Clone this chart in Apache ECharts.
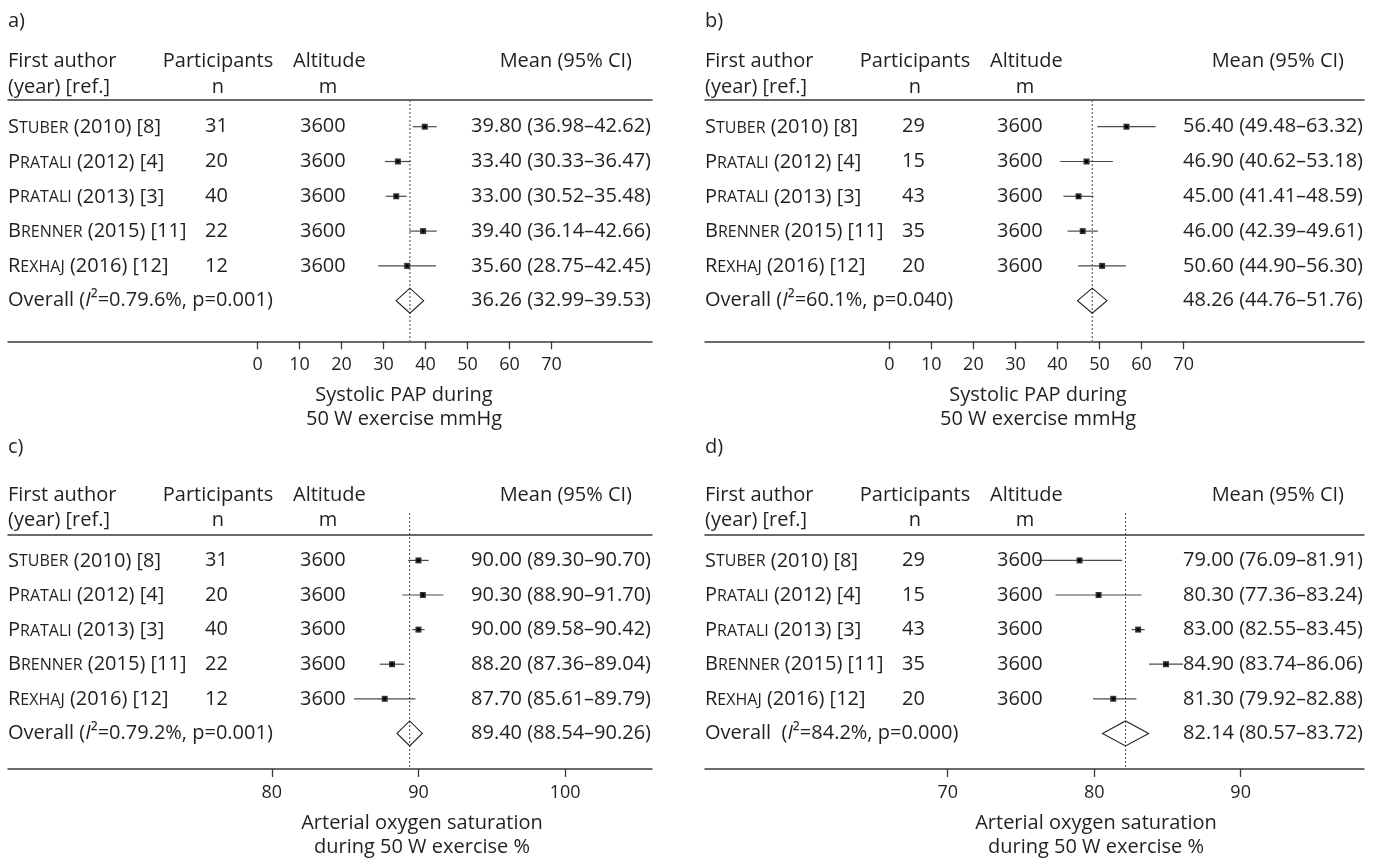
<!DOCTYPE html>
<html><head><meta charset="utf-8">
<script src="https://cdn.jsdelivr.net/npm/echarts@6/dist/echarts.min.js"></script>
<style>html,body{margin:0;padding:0;background:#fff}#c{width:1379px;height:859px}</style>
</head><body><div id="c"></div>
<script>
// ---------- data ----------
const surnames = ['Stuber', 'Pratali', 'Pratali', 'Brenner', 'Rexhaj'];
const yearRefs = ['(2010) [8]', '(2012) [4]', '(2013) [3]', '(2015) [11]', '(2016) [12]'];
const altitudes = [3600, 3600, 3600, 3600, 3600];

const nA = [31, 20, 40, 22, 12];
const meanA = [39.80, 33.40, 33.00, 39.40, 35.60];
const lowA = [36.98, 30.33, 30.52, 36.14, 28.75];
const highA = [42.62, 36.47, 35.48, 42.66, 42.45];
const overallA = [36.26, 32.99, 39.53];
const hetA = ['0.79.6%', '0.001'];
const ticksA = [0, 10, 20, 30, 40, 50, 60, 70];
const titleA = ['Systolic PAP during', '50 W exercise mmHg'];

const nB = [29, 15, 43, 35, 20];
const meanB = [56.40, 46.90, 45.00, 46.00, 50.60];
const lowB = [49.48, 40.62, 41.41, 42.39, 44.90];
const highB = [63.32, 53.18, 48.59, 49.61, 56.30];
const overallB = [48.26, 44.76, 51.76];
const hetB = ['60.1%', '0.040'];
const ticksB = [0, 10, 20, 30, 40, 50, 60, 70];
const titleB = ['Systolic PAP during', '50 W exercise mmHg'];

const nC = [31, 20, 40, 22, 12];
const meanC = [90.00, 90.30, 90.00, 88.20, 87.70];
const lowC = [89.30, 88.90, 89.58, 87.36, 85.61];
const highC = [90.70, 91.70, 90.42, 89.04, 89.79];
const overallC = [89.40, 88.54, 90.26];
const hetC = ['0.79.2%', '0.001'];
const ticksC = [80, 90, 100];
const titleC = ['Arterial oxygen saturation', 'during 50 W exercise %'];

const nD = [29, 15, 43, 35, 20];
const meanD = [79.00, 80.30, 83.00, 84.90, 81.30];
const lowD = [76.09, 77.36, 82.55, 83.74, 79.92];
const highD = [81.91, 83.24, 83.45, 86.06, 82.88];
const overallD = [82.14, 80.57, 83.72];
const hetD = ['84.2%', '0.000'];
const ticksD = [70, 80, 90];
const titleD = ['Arterial oxygen saturation', 'during 50 W exercise %'];

// ---------- layout ----------
const FONT = '"Open Sans", "DejaVu Sans", sans-serif';
const TXT = '#231f20';
const panels = [
  {label: 'a)', n: nA, mean: meanA, low: lowA, high: highA, overall: overallA, het: hetA, ticks: ticksA, title: titleA, hetGap: ' ',
   left: 8, right: 652, top: 100, axisY: 341.3, row0: 126.7, step: 34.8, labelY: 21.7, h1: 61.7, h2: 87.3, t1: 395.7, t2: 419, tx: 404,
   xmin: -59.43, xmax: 93.9, dashTop: null},
  {label: 'b)', n: nB, mean: meanB, low: lowB, high: highB, overall: overallB, het: hetB, ticks: ticksB, title: titleB, hetGap: ' ',
   left: 705, right: 1364, top: 100, axisY: 341.3, row0: 126.7, step: 34.8, labelY: 21.7, h1: 61.7, h2: 87.3, t1: 395.7, t2: 419, tx: 1038,
   xmin: -43.83, xmax: 112.89, dashTop: null},
  {label: 'c)', n: nC, mean: meanC, low: lowC, high: highC, overall: overallC, het: hetC, ticks: ticksC, title: titleC, hetGap: ' ',
   left: 8, right: 652, top: 534.3, axisY: 769, row0: 560.4, step: 34.6, labelY: 447, h1: 495, h2: 520, t1: 823.3, t2: 847.3, tx: 422,
   xmin: 62.02, xmax: 105.92, dashTop: -1.37},
  {label: 'd)', n: nD, mean: meanD, low: lowD, high: highD, overall: overallD, het: hetD, ticks: ticksD, title: titleD, hetGap: '  ',
   left: 705, right: 1364, top: 534.3, axisY: 769, row0: 560.4, step: 34.6, labelY: 447, h1: 495, h2: 520, t1: 823.3, t2: 847.3, tx: 1096,
   xmin: 53.43, xmax: 98.42, dashTop: -1.37}
];

const grid = [], xAxis = [], yAxis = [], series = [], graphics = [];

function txt(x, y, text, align, size) {
  return {type: 'text', x: x, y: y, silent: true,
    style: {text: text, fill: TXT, font: (size || 20) + 'px ' + FONT, textAlign: align || 'left', textVerticalAlign: 'middle'}};
}

panels.forEach((p, k) => {
  const ymin = (p.top - p.row0) / p.step;
  const ymax = (p.axisY - p.row0) / p.step;
  grid.push({left: p.left, top: p.top, width: p.right - p.left, height: p.axisY - p.top, containLabel: false});
  xAxis.push({
    gridIndex: k, type: 'value', min: p.xmin, max: p.xmax, position: 'bottom',
    splitLine: {show: false},
    axisLine: {show: true, onZero: false, lineStyle: {color: '#3a3a3a', width: 1.5}},
    axisTick: {show: true, customValues: p.ticks, length: 8, lineStyle: {color: '#3a3a3a', width: 1.3}},
    axisLabel: {show: true, customValues: p.ticks, margin: 15, color: TXT, fontSize: 18, fontFamily: FONT}
  });
  xAxis.push({
    gridIndex: k, type: 'value', min: p.xmin, max: p.xmax, position: 'top',
    splitLine: {show: false}, axisTick: {show: false}, axisLabel: {show: false},
    axisLine: {show: true, onZero: false, lineStyle: {color: '#3a3a3a', width: 1.5}}
  });
  yAxis.push({gridIndex: k, type: 'value', inverse: true, min: ymin, max: ymax, show: false});

  const studies = p.mean.map((m, i) => [i, p.low[i], m, p.high[i]]);
  series.push({
    type: 'custom', xAxisIndex: 2 * k, yAxisIndex: k, silent: true,
    encode: {y: 0, x: [1, 2, 3]},
    data: studies,
    renderItem: function (params, api) {
      const i = api.value(0);
      const lo = api.coord([api.value(1), i]);
      const mid = api.coord([api.value(2), i]);
      const hi = api.coord([api.value(3), i]);
      return {type: 'group', children: [
        {type: 'line', shape: {x1: lo[0], y1: lo[1], x2: hi[0], y2: hi[1]}, style: {stroke: '#4a4a4a', lineWidth: 1.2}},
        {type: 'rect', shape: {x: mid[0] - 3, y: mid[1] - 3, width: 6, height: 6}, style: {fill: '#333'}},
        {type: 'circle', shape: {cx: mid[0], cy: mid[1], r: 1.7}, style: {fill: '#000'}}
      ]};
    }
  });
  // overall diamond + dashed reference line at overall mean
  series.push({
    type: 'custom', xAxisIndex: 2 * k, yAxisIndex: k, silent: true,
    encode: {y: 0, x: [1, 2, 3]},
    data: [[5, p.overall[1], p.overall[0], p.overall[2]]],
    renderItem: function (params, api) {
      const i = api.value(0);
      const lo = api.coord([api.value(1), i]);
      const mid = api.coord([api.value(2), i]);
      const hi = api.coord([api.value(3), i]);
      const dTop = api.coord([api.value(2), p.dashTop === null ? ymin : p.dashTop]);
      const dBot = api.coord([api.value(2), ymax]);
      return {type: 'group', children: [
        {type: 'line', shape: {x1: dTop[0], y1: dTop[1], x2: dBot[0], y2: dBot[1]},
          style: {stroke: '#444', lineWidth: 1, lineDash: [2, 2]}},
        {type: 'polygon', shape: {points: [[lo[0], lo[1]], [mid[0], mid[1] - 12.5], [hi[0], hi[1]], [mid[0], mid[1] + 12.5]]},
          style: {fill: 'rgba(255,255,255,0)', stroke: '#222', lineWidth: 1.1}}
      ]};
    }
  });
  // text columns
  const rows = [0, 1, 2, 3, 4, 5].map(i => [p.xmin, i]);
  series.push({
    type: 'custom', xAxisIndex: 2 * k, yAxisIndex: k, silent: true,
    encode: {x: 0, y: 1},
    data: rows,
    renderItem: function (params, api) {
      const i = api.value(1);
      const y = api.coord([api.value(0), i])[1];
      const font = '20px ' + FONT;
      const ch = [];
      const base = {fill: TXT, font: font, textVerticalAlign: 'middle'};
      if (i < 5) {
        const s = surnames[i];
        ch.push({type: 'text', x: p.left, y: y - 1.5, style: Object.assign({}, base, {
          text: '{n|' + s[0] + '}{sc|' + s.slice(1).toUpperCase() + '}{n| ' + yearRefs[i] + '}',
          textAlign: 'left',
          rich: {n: {fontSize: 20, fontFamily: FONT, fill: TXT, verticalAlign: 'bottom', lineHeight: 24},
                 sc: {fontSize: 16, fontFamily: FONT, fill: TXT, verticalAlign: 'bottom', lineHeight: 24, padding: [0, 0, 1, 0]}}
        })});
        ch.push({type: 'text', x: p.left + 197, y: y, style: Object.assign({}, base, {text: String(p.n[i]), textAlign: 'left'})});
        ch.push({type: 'text', x: p.left + 292, y: y, style: Object.assign({}, base, {text: String(altitudes[i]), textAlign: 'left'})});
        ch.push({type: 'text', x: p.right - 1, y: y, style: Object.assign({}, base, {
          text: p.mean[i].toFixed(2) + ' (' + p.low[i].toFixed(2) + '\u2013' + p.high[i].toFixed(2) + ')', textAlign: 'right'})});
      } else {
        ch.push({type: 'text', x: p.left, y: y, style: Object.assign({}, base, {
          text: '{n|Overall' + p.hetGap + '(}{it|I}{n|\u00b2=' + p.het[0] + ', p=' + p.het[1] + ')}',
          textAlign: 'left',
          rich: {n: {fontSize: 20, fontFamily: FONT, fill: TXT}, it: {fontSize: 20, fontFamily: FONT, fill: TXT, fontStyle: 'italic'}}
        })});
        ch.push({type: 'text', x: p.right - 1, y: y, style: Object.assign({}, base, {
          text: p.overall[0].toFixed(2) + ' (' + p.overall[1].toFixed(2) + '\u2013' + p.overall[2].toFixed(2) + ')', textAlign: 'right'})});
      }
      return {type: 'group', children: ch};
    }
  });

  graphics.push(txt(p.left, p.labelY, p.label, 'left'));
  graphics.push(txt(p.left, p.h1, 'First author', 'left'));
  graphics.push(txt(p.left, p.h2, '(year) [ref.]', 'left'));
  graphics.push(txt(p.left + 210, p.h1, 'Participants', 'center'));
  graphics.push(txt(p.left + 210, p.h2, 'n', 'center'));
  graphics.push(txt(p.left + 285, p.h1, 'Altitude', 'left'));
  graphics.push(txt(p.left + 320, p.h2, 'm', 'center'));
  graphics.push(txt(p.right - 20, p.h1, 'Mean (95% CI)', 'right'));
  graphics.push(txt(p.tx, p.t1, p.title[0], 'center'));
  graphics.push(txt(p.tx, p.t2, p.title[1], 'center'));
});

const chart = echarts.init(document.getElementById('c'), null, {renderer: 'canvas'});
chart.setOption({
  animation: false,
  backgroundColor: '#fff',
  textStyle: {fontFamily: FONT},
  grid: grid, xAxis: xAxis, yAxis: yAxis, series: series,
  graphic: {elements: graphics}
});
</script>
</body></html>
